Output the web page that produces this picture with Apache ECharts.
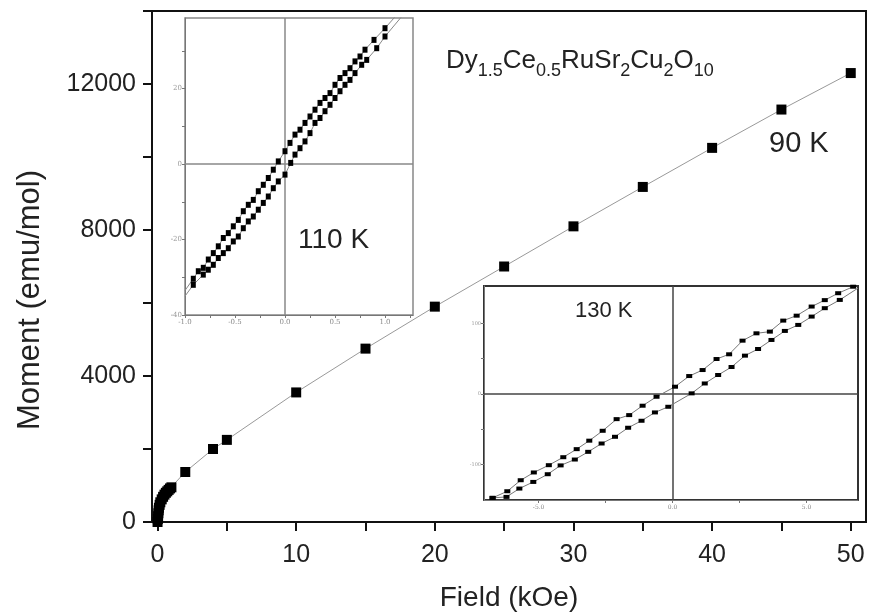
<!DOCTYPE html>
<html>
<head>
<meta charset="utf-8">
<script src="https://cdn.jsdelivr.net/npm/echarts@6/dist/echarts.min.js"></script>
<style>
  html, body { margin: 0; padding: 0; background: #fff; }
  #main { width: 869px; height: 613px; }
</style>
</head>
<body>
<div id="main"></div>
<script>
// main curve, 90 K
const mainField = [0, 0.02, 0.04, 0.06, 0.08, 0.1, 0.15, 0.2, 0.3, 0.4, 0.5, 0.6, 0.7, 0.8, 0.9, 1.0,
  2, 4, 5, 10, 15, 20, 25, 30, 35, 40, 45, 50]
const mainMoment = [0, 80, 160, 240, 320, 390, 470, 540, 620, 690, 750, 800, 840, 880, 920, 950,
  1370, 2000, 2250, 3550, 4750, 5900, 7000, 8100, 9180, 10250, 11300, 12300]

// inset 110 K (first and last entries are where the thin line runs out, no symbol)
const in110UpField = [-1.0, -0.917, -0.867, -0.817, -0.767, -0.717, -0.667, -0.617, -0.567, -0.517,
  -0.467, -0.417, -0.367, -0.317, -0.267, -0.217, -0.167, -0.117, -0.067, 0, 0.05, 0.1, 0.15, 0.2,
  0.25, 0.3, 0.35, 0.4, 0.45, 0.5, 0.55, 0.6, 0.65, 0.7, 0.75, 0.8, 0.89, 1.0, 1.117]
const in110UpMoment = [-33.5, -30.4, -28.4, -27.5, -25.3, -23.6, -21.8, -19.6, -18.3, -16.5,
  -14.8, -12.5, -10.8, -9.5, -7.2, -5.5, -3.7, -1.5, 0.7, 3.4, 5.6, 7.8, 9.1, 10.9,
  12.6, 14.4, 16.2, 17.5, 18.8, 21.0, 22.8, 24.1, 25.4, 27.2, 28.5, 30.3, 32.9, 36.0, 39.5]
const in110DownField = [-1.0, -0.917, -0.817, -0.767, -0.717, -0.667, -0.617, -0.567, -0.517, -0.467,
  -0.417, -0.367, -0.317, -0.267, -0.217, -0.167, -0.117, -0.067, 0, 0.057, 0.1, 0.15, 0.2, 0.25,
  0.3, 0.35, 0.4, 0.45, 0.5, 0.55, 0.6, 0.65, 0.7, 0.767, 0.817, 0.917, 1.0, 1.18]
const in110DownMoment = [-35, -32, -29.3, -28, -26.7, -24.9, -23.6, -22.3, -20.5, -19.2,
  -17, -15.2, -13.9, -12.1, -10.3, -8.6, -6.4, -4.6, -2.8, 0.3, 2.5, 4.2, 6.0, 8.2,
  10.9, 12.2, 14.0, 15.7, 17.5, 19.3, 21.0, 22.3, 24.1, 26.3, 27.6, 30.7, 33.8, 39.5]

// inset 130 K
const in130UpField = [-6.72, -6.17, -5.67, -5.18, -4.62, -4.08, -3.58, -3.11, -2.61, -2.09, -1.62,
  -1.12, -0.6, 0.09, 0.62, 1.12, 1.64, 2.11, 2.61, 3.13, 3.63, 4.13, 4.63, 5.19, 5.68, 6.18, 6.74]
const in130UpMoment = [-147, -137.6, -122, -111, -100.7, -89.4, -78, -66, -52, -35.5, -29.8,
  -16.5, -3.8, 10.4, 25.5, 34, 49.6, 56.3, 75.6, 86, 88.4, 104, 111, 123.9, 133, 142.8, 152]
const in130DownField = [-6.72, -6.2, -5.72, -5.2, -4.66, -4.18, -3.65, -3.15, -2.65, -2.15, -1.66,
  -1.16, -0.66, -0.16, 0.71, 1.2, 1.7, 2.2, 2.7, 3.19, 3.69, 4.19, 4.69, 5.19, 5.68, 6.24, 6.92]
const in130DownMoment = [-147, -145.6, -133.8, -124.4, -113.5, -101, -92.7, -81.8, -70, -60.5, -47.7,
  -37.8, -26, -18, 1, 15, 27, 38.3, 54.4, 63.8, 76.6, 89.4, 97.9, 109.7, 121.6, 133.3, 150]

// tick positions
const mainXTicks = [0, 5, 10, 15, 20, 25, 30, 35, 40, 45, 50]
const mainXLabels = [0, 10, 20, 30, 40, 50]
const in110XTicks = [-1, -0.75, -0.5, -0.25, 0, 0.25, 0.5, 0.75, 1, 1.25]
const in110XLabels = [-1, -0.5, 0, 0.5, 1]
const in110YTicks = [-40, -30, -20, -10, 0, 10, 20, 30]
const in110YLabels = [-40, -20, 0, 20]
const in130XTicks = [-5, -2.5, 0, 2.5, 5]
const in130XLabels = [-5, 0, 5]
const in130YTicks = [-100, -50, 0, 50, 100]
const in130YLabels = [-100, 0, 100]

const FONT = 'Liberation Sans, Arial, sans-serif'

function pairs(xs, ys) {
  return xs.map((x, i) => [x, ys[i]])
}

// thin line runs past the points; drop the marker on the chosen ends
function bareEnds(xs, ys, first, last) {
  return xs.map((x, i) => {
    const item = { value: [x, ys[i]] }
    if ((first && i === 0) || (last && i === xs.length - 1)) item.symbol = 'none'
    return item
  })
}

function insetX(grid, min, max, ticks, labels, size) {
  return {
    gridIndex: grid, type: 'value', min, max, z: 12,
    axisLine: { onZero: false, lineStyle: { color: '#777', width: 1 } },
    axisTick: { customValues: ticks, length: 3, lineStyle: { color: '#777' } },
    axisLabel: { customValues: labels, fontSize: size, color: '#888', margin: 4, fontFamily: 'DejaVu Serif',
      formatter: v => v.toFixed(1) },
    splitLine: { show: false }
  }
}

function insetY(grid, min, max, ticks, labels, size) {
  return {
    gridIndex: grid, type: 'value', min, max, z: 12,
    axisLine: { onZero: false, lineStyle: { color: '#777', width: 1 } },
    axisTick: { customValues: ticks, length: 3, lineStyle: { color: '#777' } },
    axisLabel: { customValues: labels, fontSize: size, color: '#999', margin: 3, fontFamily: 'DejaVu Serif' },
    splitLine: { show: false }
  }
}

const crossLines = color => ({
  silent: true, symbol: 'none', z: 13, label: { show: false },
  lineStyle: { color, width: 1.5, type: 'solid' },
  data: [{ xAxis: 0 }, { yAxis: 0 }]
})

const chart = echarts.init(document.getElementById('main'))

chart.setOption({
  animation: false,
  backgroundColor: '#fff',
  grid: [
    { left: 152, right: 3, top: 11, bottom: 91, outerBoundsMode: 'none',
      show: true, borderColor: '#111', borderWidth: 2 },
    { left: 185, top: 18, width: 228, height: 297, outerBoundsMode: 'none', show: true, z: 10,
      backgroundColor: '#fff', borderColor: '#888', borderWidth: 1.5 },
    { left: 484, top: 286, width: 374, height: 214, outerBoundsMode: 'none', show: true, z: 10,
      backgroundColor: '#fff', borderColor: '#333', borderWidth: 2 }
  ],
  xAxis: [
    {
      gridIndex: 0, type: 'value', min: -0.4, max: 51.1,
      name: 'Field (kOe)', nameLocation: 'middle', nameGap: 62,
      nameTextStyle: { fontSize: 28, color: '#222', fontFamily: FONT },
      axisLine: { onZero: false, lineStyle: { color: '#111', width: 2 } },
      axisTick: { customValues: mainXTicks, length: 9, lineStyle: { color: '#111', width: 2 } },
      axisLabel: { customValues: mainXLabels, fontSize: 25, color: '#222', margin: 21, fontFamily: FONT },
      splitLine: { show: false }
    },
    insetX(1, -1.0, 1.28, in110XTicks, in110XLabels, 7),
    insetX(2, -7.04, 6.92, in130XTicks, in130XLabels, 6)
  ],
  yAxis: [
    {
      gridIndex: 0, type: 'value', min: 0, max: 14000, interval: 2000,
      axisLine: { onZero: false, lineStyle: { color: '#111', width: 2 } },
      axisTick: { length: 9, lineStyle: { color: '#111', width: 2 } },
      axisLabel: { fontSize: 25, color: '#222', margin: 16, fontFamily: FONT,
        formatter: v => (v % 4000 === 0 ? String(v) : '') },
      splitLine: { show: false }
    },
    insetY(1, -40, 38.7, in110YTicks, in110YLabels, 7),
    insetY(2, -150, 153, in130YTicks, in130YLabels, 5)
  ],
  series: [
    {
      type: 'line', xAxisIndex: 0, yAxisIndex: 0, z: 2,
      data: pairs(mainField, mainMoment),
      symbol: 'rect', symbolSize: 10,
      itemStyle: { color: '#000' },
      lineStyle: { color: '#999', width: 1 }
    },
    {
      type: 'line', xAxisIndex: 1, yAxisIndex: 1, z: 14,
      data: bareEnds(in110UpField, in110UpMoment, true, true),
      symbol: 'rect', symbolSize: [5, 6],
      itemStyle: { color: '#000' },
      lineStyle: { color: '#888', width: 1 },
      markLine: crossLines('#888')
    },
    {
      type: 'line', xAxisIndex: 1, yAxisIndex: 1, z: 14,
      data: bareEnds(in110DownField, in110DownMoment, true, true),
      symbol: 'rect', symbolSize: [5, 6],
      itemStyle: { color: '#000' },
      lineStyle: { color: '#888', width: 1 }
    },
    {
      type: 'line', xAxisIndex: 2, yAxisIndex: 2, z: 14,
      data: pairs(in130UpField, in130UpMoment),
      symbol: 'rect', symbolSize: [6, 4],
      itemStyle: { color: '#000' },
      lineStyle: { color: '#777', width: 1 },
      markLine: crossLines('#444')
    },
    {
      type: 'line', xAxisIndex: 2, yAxisIndex: 2, z: 14,
      data: bareEnds(in130DownField, in130DownMoment, false, true),
      symbol: 'rect', symbolSize: [6, 4],
      itemStyle: { color: '#000' },
      lineStyle: { color: '#777', width: 1 }
    }
  ],
  graphic: [
    // y axis title, set lower than the axis middle as in the original
    { type: 'text', x: 30, y: 300, rotation: Math.PI / 2, z: 20,
      style: { text: 'Moment (emu/mol)', fontSize: 31, fill: '#222', fontFamily: FONT,
        align: 'center', verticalAlign: 'middle' } },
    { type: 'text', left: 769, top: 129, z: 20,
      style: { text: '90 K', fontSize: 29, fill: '#222', fontFamily: FONT } },
    { type: 'text', left: 298, top: 226, z: 20,
      style: { text: '110 K', fontSize: 28, fill: '#222', fontFamily: FONT } },
    { type: 'text', left: 575, top: 300, z: 20,
      style: { text: '130 K', fontSize: 22, fill: '#222', fontFamily: FONT } },
    { type: 'text', left: 446, top: 48, z: 20,
      style: {
        text: '{m|Dy}{s|1.5}{m|Ce}{s|0.5}{m|RuSr}{s|2}{m|Cu}{s|2}{m|O}{s|10}',
        fontFamily: FONT, fill: '#222',
        rich: {
          m: { fontSize: 26, lineHeight: 28, verticalAlign: 'top', fontFamily: FONT, fill: '#222' },
          s: { fontSize: 18, lineHeight: 18, padding: [14, 0, 0, 0], verticalAlign: 'top', fontFamily: FONT, fill: '#222' }
        }
      } }
  ]
})
</script>
</body>
</html>
